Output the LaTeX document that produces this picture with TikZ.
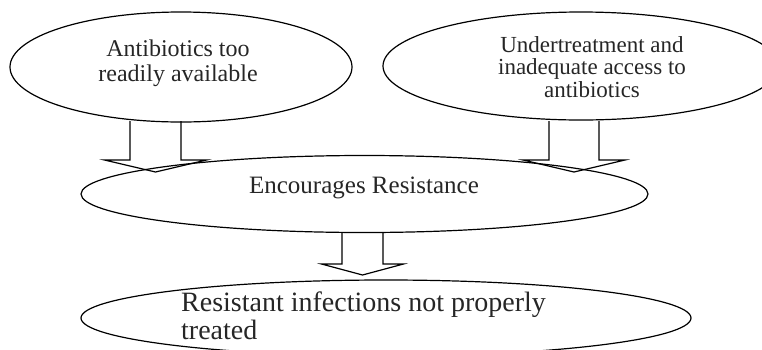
\documentclass[tikz,border=0pt]{standalone}
\usepackage{fontspec}
\setmainfont{Liberation Serif}
\usetikzlibrary{shapes.geometric}

% open block arrow hanging down from a coordinate
\newcommand{\fatarrow}[5]{%
  \draw[line width=0.6pt, line join=miter] (#1) +(-#2,0) -- +(-#2,#4) -- +(-#3,#4) -- +(0,#5) -- +(#3,#4) -- +(#2,#4) -- +(#2,0);%
}

\begin{document}
\begin{tikzpicture}[x=0.5pt, y=-0.5pt,
    bubble/.style={ellipse, draw, line width=0.6pt, inner sep=0pt},
    lbl/.style={align=center, inner sep=0pt, text=black!85}]
  \useasboundingbox (0,0) rectangle (762,349);

  \node[bubble, minimum width=171pt, minimum height=55pt] (avail) at (181,67) {};
  \node[bubble, minimum width=198pt, minimum height=54pt] (access) at (581,66) {};
  \node[bubble, minimum width=283.5pt, minimum height=38.5pt] (resist) at (364.5,194) {};
  \node[bubble, minimum width=305pt, minimum height=38pt] (untreated) at (386,318) {};

  \node[lbl, font=\fontsize{12}{12.5}\selectfont] (availtext) at (178,63) {Antibiotics too\\readily available};
  \node[lbl, font=\fontsize{11.5}{11.25}\selectfont] (accesstext) at (592,67) {Undertreatment and\\inadequate access to\\antibiotics};
  \node[lbl, font=\fontsize{12.5}{15}\selectfont] (resisttext) at (364,188) {Encourages Resistance};
  \node[lbl, align=left, font=\fontsize{14}{12}\selectfont] (untreatedtext) at (363.5,316) {Resistant infections not properly\\treated};

  % arrows
  \coordinate (a1) at (155.5,121);
  \coordinate (a2) at (574,121);
  \coordinate (a3) at (362.5,232);
  \fatarrow{a1}{25.5}{51}{39}{51}
  \fatarrow{a2}{25}{51}{39}{51}
  \fatarrow{a3}{20.5}{41}{32}{43}
\end{tikzpicture}
\end{document}
